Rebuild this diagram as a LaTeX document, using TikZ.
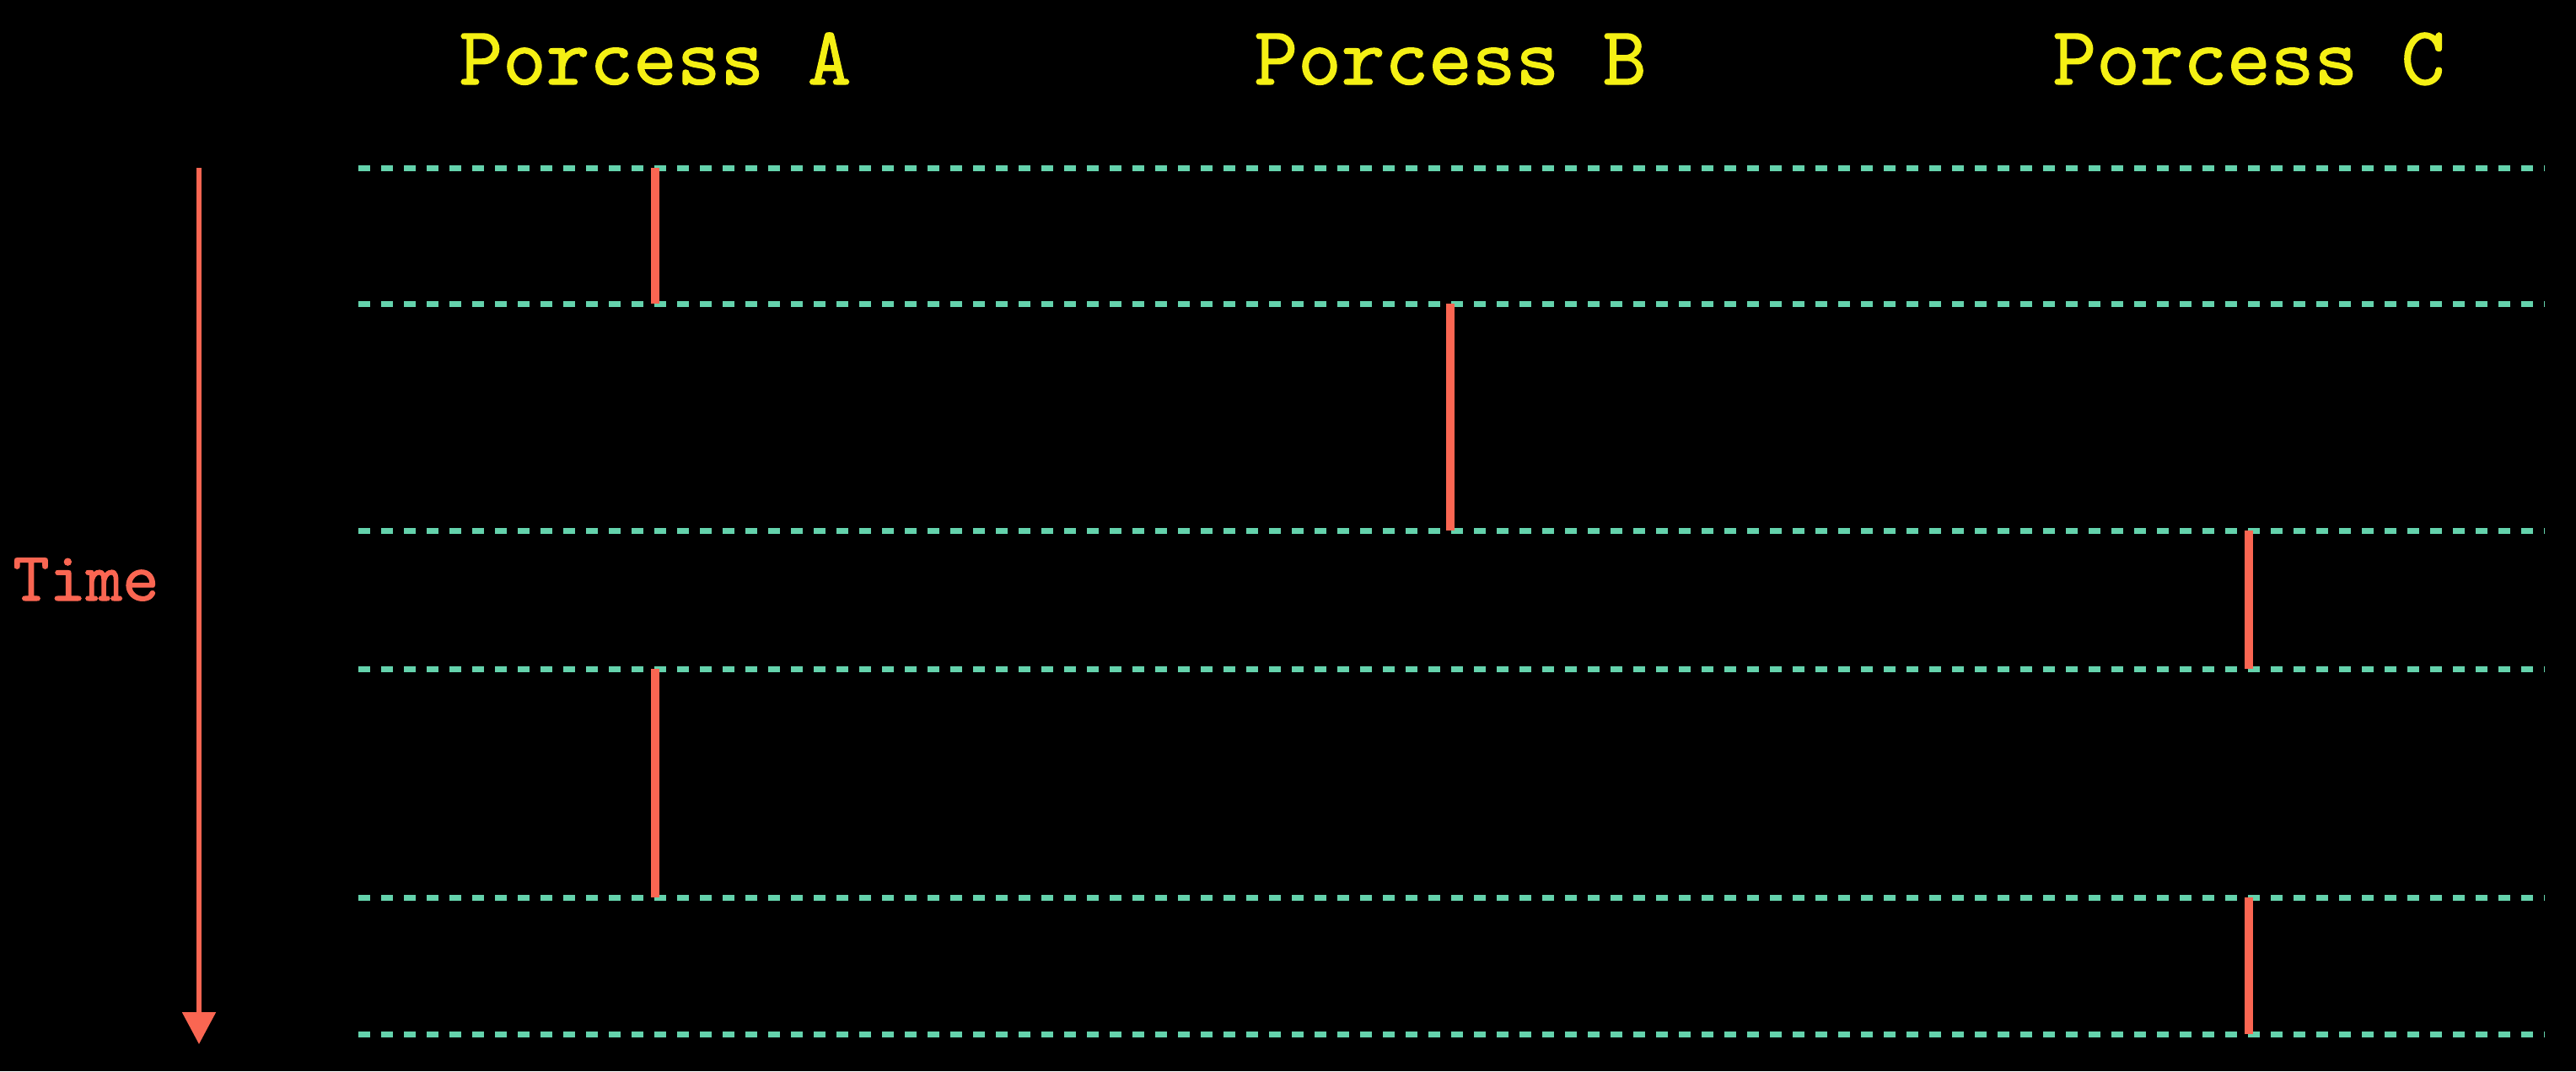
\documentclass[tikz,border=0pt]{standalone}
\usepackage{fontspec}
\usetikzlibrary{arrows.meta}
\newfontfamily\procfont{lmmono10-regular.otf}[FakeBold=1.2]
\definecolor{slotteal}{RGB}{100,210,172}
\definecolor{runred}{RGB}{250,102,82}
\definecolor{procyellow}{RGB}{245,240,20}
\tikzset{
    slot/.style={draw=slotteal, line width=0.07cm, dash pattern=on 0.14cm off 0.13cm},
    run/.style={draw=runred, line width=0.1cm},
    proc/.style={text=procyellow, font=\procfont\fontsize{28}{30}\selectfont, anchor=base, inner sep=0pt},
}
\begin{document}
\begin{tikzpicture}
            \fill[black] (0,0) rectangle (30.55,-12.7);
            \useasboundingbox (0,0) rectangle (30.55,-12.7);
            % process names
            \node[proc] (procA) at (7.77,-1.00) {Porcess A};
            \node[proc] (procB) at (17.20,-1.00) {Porcess B};
            \node[proc] (procC) at (26.67,-1.00) {Porcess C};
            % time axis
            \node[text=runred, font=\procfont\fontsize{23.5}{26}\selectfont, anchor=base, inner sep=0pt] (time) at (1.02,-7.12) {Time};
            \coordinate (tstart) at (2.36,-1.99);
            \coordinate (tend) at (2.36,-12.38);
            \draw[runred, line width=0.055cm, -{Triangle[length=0.38cm, width=0.39cm]}] (tstart) -- (tend);
            % time slots
            \draw[slot] (4.25,-1.99) -- (30.18,-1.99);
            \draw[slot] (4.25,-3.60) -- (30.18,-3.60);
            \draw[slot] (4.25,-6.29) -- (30.18,-6.29);
            \draw[slot] (4.25,-7.93) -- (30.18,-7.93);
            \draw[slot] (4.25,-10.64) -- (30.18,-10.64);
            \draw[slot] (4.25,-12.26) -- (30.18,-12.26);
            % running slices
            \draw[run] (7.77,-1.99) -- (7.77,-3.60);
            \draw[run] (17.20,-3.60) -- (17.20,-6.29);
            \draw[run] (26.67,-6.29) -- (26.67,-7.93);
            \draw[run] (7.77,-7.93) -- (7.77,-10.64);
            \draw[run] (26.67,-10.64) -- (26.67,-12.26);
        \end{tikzpicture}
\end{document}
